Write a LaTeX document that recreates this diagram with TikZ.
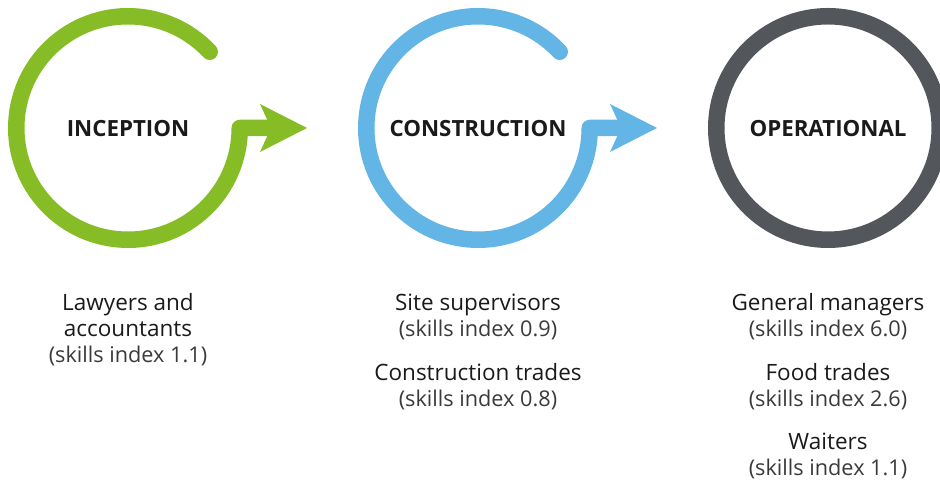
\documentclass[tikz,border=0pt]{standalone}
\usepackage{fontspec}
\setmainfont{Open Sans}
\definecolor{dgreen}{HTML}{86BC25}
\definecolor{dblue}{HTML}{62B5E5}
\definecolor{dgray}{HTML}{53565A}
\definecolor{txt}{HTML}{1A1A1A}
\definecolor{txtlight}{HTML}{3A3A3A}
\tikzset{
  ring/.style={line width=16.5pt, line cap=round, line join=round},
  head/.style={font=\fontsize{22.3}{26}\selectfont\bfseries, text=txt, anchor=base, inner sep=0pt},
  role/.style={font=\fontsize{22.5}{26}\selectfont, text=txt, anchor=base, inner sep=0pt},
  idx/.style={font=\fontsize{21.7}{26}\selectfont, text=txtlight, anchor=base, inner sep=0pt},
}
\begin{document}
\begin{tikzpicture}[x=1pt,y=1pt]
\useasboundingbox (0,0) rectangle (940,486);
\clip (0,0) rectangle (940,486);
% stage 1
\coordinate (c1) at (128,358);
\coordinate (s1) at (270,358);
\draw[ring, draw=dgreen] (c1) ++(43:111.75) arc[start angle=43, end angle=360, radius=111.75] -- (s1);
\fill[dgreen] (260,382) -- (307,358) -- (260,334) -- (271,358) -- cycle;
\node[head] (h1) at (128,349) {INCEPTION};
% stage 2
\coordinate (c2) at (478,358);
\coordinate (s2) at (620,358);
\draw[ring, draw=dblue] (c2) ++(43:111.75) arc[start angle=43, end angle=360, radius=111.75] -- (s2);
\fill[dblue] (610,382) -- (657,358) -- (610,334) -- (621,358) -- cycle;
\node[head] (h2) at (478,349) {CONSTRUCTION};
% stage 3
\coordinate (c3) at (828,358);
\draw[ring, draw=dgray] (c3) circle[radius=111.75];
\node[head] (h3) at (828,349) {OPERATIONAL};
% texts column 1
\node[role] (a1) at (128,175) {Lawyers and};
\node[role] (a2) at (128,149) {accountants};
\node[idx]  (a3) at (128,123) {(skills index 1.1)};
% column 2
\node[role] (b1) at (478,175) {Site supervisors};
\node[idx]  (b2) at (478,149) {(skills index 0.9)};
\node[role] (b3) at (478,105) {Construction trades};
\node[idx]  (b4) at (478,79) {(skills index 0.8)};
% column 3
\node[role] (d1) at (828,175) {General managers};
\node[idx]  (d2) at (828,149) {(skills index 6.0)};
\node[role] (d3) at (828,105) {Food trades};
\node[idx]  (d4) at (828,79) {(skills index 2.6)};
\node[role] (d5) at (828,36) {Waiters};
\node[idx]  (d6) at (828,10) {(skills index 1.1)};
\end{tikzpicture}
\end{document}
